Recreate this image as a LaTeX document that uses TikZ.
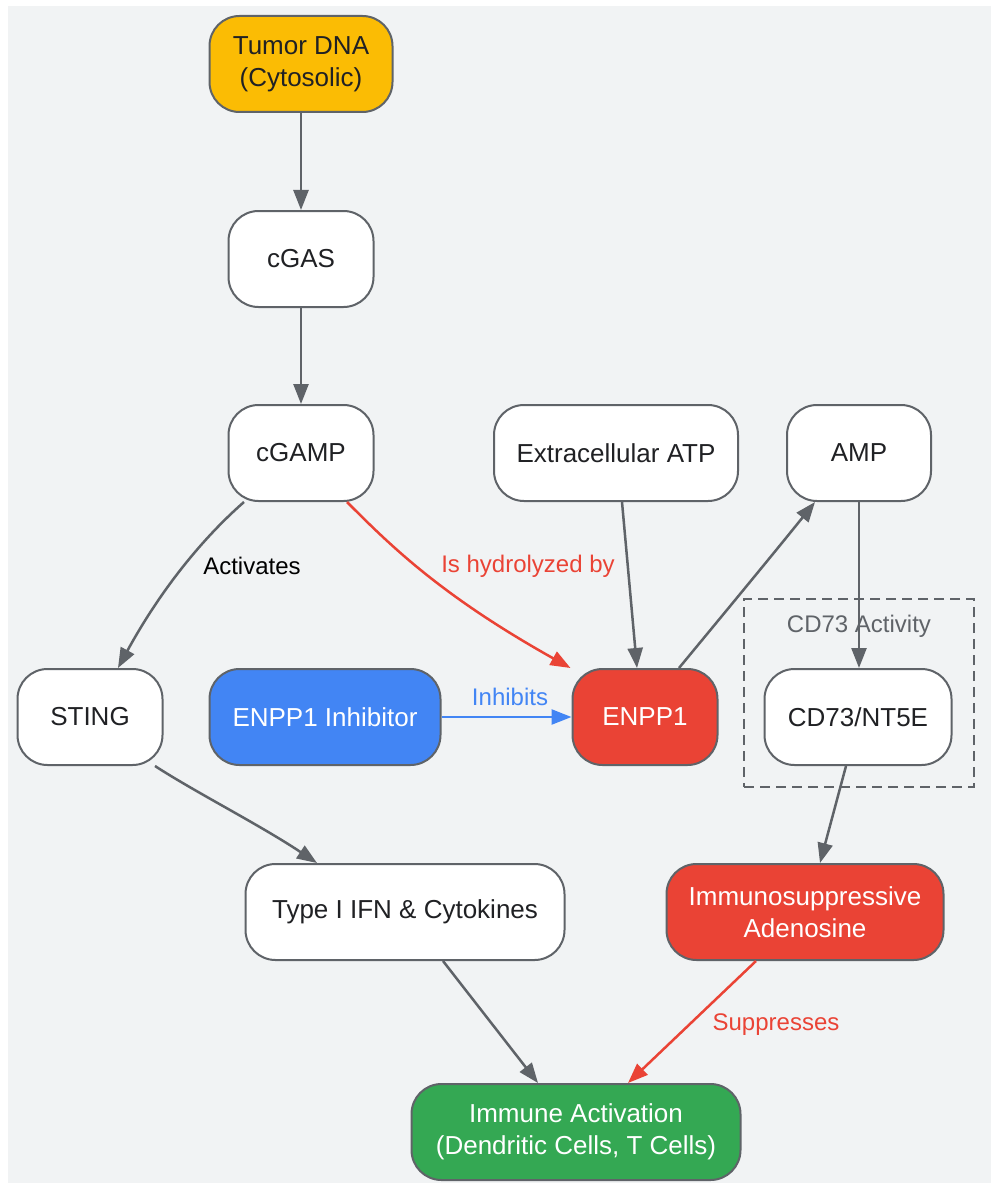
\documentclass[tikz,border=0pt]{standalone}
\usepackage{fontspec}
\setmainfont{Liberation Sans}
\usetikzlibrary{arrows.meta}
\definecolor{bg}{HTML}{F1F3F4}
\definecolor{edgegray}{HTML}{5F6368}
\definecolor{txtdark}{HTML}{202124}
\definecolor{gred}{HTML}{EA4335}
\definecolor{gblue}{HTML}{4285F4}
\definecolor{ggreen}{HTML}{34A853}
\definecolor{gamber}{HTML}{FBBC04}
\tikzset{
  box/.style={draw=edgegray, line width=2pt, rectangle, rounded corners=30pt, fill=white,
    text=txtdark, align=center, inner sep=0pt, font=\fontsize{26}{32}\selectfont,
    minimum height=96pt},
  edge/.style={draw=edgegray, line width=2.5pt, -{Triangle[length=20pt,width=15pt]}},
  lbl/.style={font=\fontsize{24}{28}\selectfont, inner sep=0pt}
}
\begin{document}
\begin{tikzpicture}[x=1pt,y=-1pt]
\useasboundingbox (0,0) rectangle (991,1185);
\fill[bg] (8,6) rectangle (991,1183);

% cluster
\node[draw=edgegray, line width=2pt, dash pattern=on 10pt off 6pt, minimum width=230pt, minimum height=188pt, inner sep=0pt] (cluster) at (859,693) {};
\node[lbl, text=edgegray] (clusterlbl) at (859,626) {CD73 Activity};

% nodes
\node[box, fill=gamber, minimum width=183pt] (tumor) at (301,64) {Tumor DNA\\(Cytosolic)};
\node[box, minimum width=145pt] (cgas) at (301,259) {cGAS};
\node[box, minimum width=145pt] (cgamp) at (301,453) {cGAMP};
\node[box, minimum width=244pt] (atp) at (616,453) {Extracellular ATP};
\node[box, minimum width=144pt] (amp) at (859,453) {AMP};
\node[box, minimum width=145pt] (sting) at (90,717) {STING};
\node[box, fill=gblue, text=white, minimum width=231pt] (inh) at (325,717) {ENPP1 Inhibitor};
\node[box, fill=gred, text=white, minimum width=145pt] (enpp1) at (645,717) {ENPP1};
\node[box, minimum width=187pt] (cd73) at (858,717) {CD73/NT5E};
\node[box, minimum width=319pt] (typei) at (405,912) {Type I IFN \& Cytokines};
\node[box, fill=gred, text=white, minimum width=277pt] (aden) at (805,912) {Immunosuppressive\\Adenosine};
\node[box, fill=ggreen, text=white, minimum width=329pt] (immune) at (576,1132) {Immune Activation\\(Dendritic Cells, T Cells)};

% edges
\draw[edge] (tumor) -- (cgas);
\draw[edge] (cgas) -- (cgamp);
\draw[edge] ([xshift=-57pt]cgamp.south) .. controls (195,545) and (155,600) .. ([xshift=28pt]sting.north);
\node[lbl, text=black] (lact) at (252,566) {Activates};
\draw[edge, draw=gred] ([xshift=46pt]cgamp.south) .. controls (390,545) and (440,595) .. ([xshift=-1pt]enpp1.north west);
\node[lbl, text=gred] (lhyd) at (528,566) {Is hydrolyzed by};
\draw[edge] ([xshift=6pt]atp.south) -- ([xshift=-8pt]enpp1.north);
\draw[edge] ([xshift=34pt]enpp1.north) .. controls (712,628) and (770,558) .. ([xshift=-44pt]amp.south);
\draw[edge] (amp) -- (cd73.north -| amp);
\draw[edge, draw=gblue] (inh) -- (enpp1);
\node[lbl, text=gblue] (linh) at (510,697) {Inhibits};
\draw[edge] ([xshift=65pt]sting.south) .. controls (195,792) and (260,825) .. ([xshift=-88pt]typei.north);
\draw[edge] ([xshift=-12pt]cd73.south) -- ([xshift=15pt]aden.north);
\draw[edge] ([xshift=38pt]typei.south) -- ([xshift=-38pt]immune.north);
\draw[edge, draw=gred] ([xshift=-49pt]aden.south) -- ([xshift=52pt]immune.north);
\node[lbl, text=gred] (lsup) at (776,1025) {Suppresses};
\end{tikzpicture}
\end{document}
